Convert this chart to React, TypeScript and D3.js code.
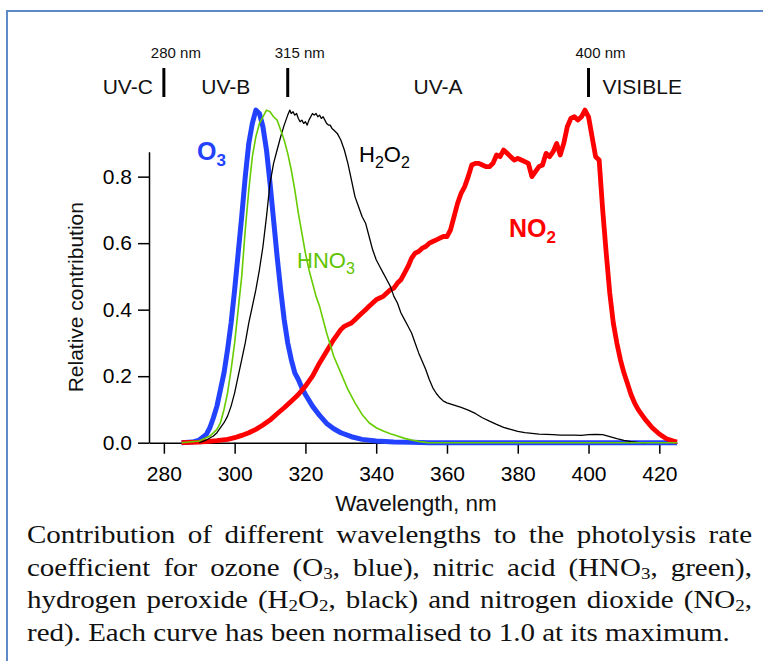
import React, { useEffect, useRef } from "react";
import * as d3 from "d3";

// wavelength (nm), relative contribution
const o3Curve = [
  [285, 0], [288, 0.002], [290, 0.008], [292, 0.025], [293, 0.045], [294, 0.075], [295, 0.11],
  [296, 0.16], [297, 0.21], [298, 0.28], [299, 0.36], [300, 0.46], [301, 0.57], [302, 0.68],
  [303, 0.8], [304, 0.9], [305, 0.96], [306, 1.0], [307, 0.99], [308, 0.95], [309, 0.88],
  [310, 0.78], [311, 0.67], [312, 0.56], [313, 0.46], [314, 0.37], [315, 0.3], [316, 0.25],
  [317, 0.21], [318, 0.19], [319, 0.165], [320, 0.145], [322, 0.11], [324, 0.082], [326, 0.058],
  [328, 0.042], [330, 0.03], [333, 0.018], [336, 0.01], [340, 0.005], [345, 0.002], [350, 0.001],
  [355, 0], [425, 0]
];

const hno3Curve = [
  [285, 0], [290, 0.005], [293, 0.02], [295, 0.04], [296, 0.06], [297, 0.1], [298, 0.15],
  [299, 0.22], [300, 0.3], [301, 0.4], [302, 0.5], [303, 0.64], [304, 0.76], [305, 0.86],
  [306, 0.92], [307, 0.96], [308, 0.98], [309, 1.0], [310, 0.995], [311, 0.98], [312, 0.97],
  [313, 0.94], [314, 0.91], [315, 0.87], [316, 0.82], [317, 0.76], [318, 0.69], [319, 0.63],
  [320, 0.57], [321, 0.52], [322, 0.48], [323, 0.44], [324, 0.41], [326, 0.33], [328, 0.26],
  [330, 0.21], [332, 0.16], [334, 0.12], [336, 0.085], [338, 0.06], [340, 0.045], [342, 0.035],
  [344, 0.027], [346, 0.02], [348, 0.013], [350, 0.008], [352, 0.004], [354, 0.001], [355, 0], [425, 0]
];

const h2o2Curve = [
  [290, 0], [292, 0.008], [294, 0.02], [295, 0.03], [296, 0.045], [297, 0.06], [298, 0.08],
  [299, 0.11], [300, 0.15], [301, 0.2], [302, 0.25], [303, 0.3], [304, 0.36], [305, 0.41],
  [306, 0.46], [307, 0.52], [308, 0.59], [309, 0.68], [310, 0.78], [311, 0.84], [312, 0.88],
  [313, 0.92], [314, 0.955], [315, 0.985], [315.6, 1.0], [316, 0.99], [316.5, 0.995], [317, 0.985],
  [317.5, 0.99], [318, 0.975], [318.5, 0.965], [319, 0.97], [319.5, 0.96], [320, 0.965],
  [320.5, 0.955], [321, 0.97], [321.5, 0.98], [322, 0.99], [322.5, 0.985], [323, 0.99],
  [323.5, 0.98], [324, 0.985], [324.5, 0.975], [325, 0.98], [325.5, 0.97], [326, 0.96],
  [326.5, 0.955], [327, 0.955], [327.5, 0.945], [328, 0.94], [329, 0.93], [330, 0.91],
  [331, 0.88], [332, 0.84], [333, 0.79], [334, 0.74], [335, 0.71], [336, 0.68], [337, 0.66],
  [338, 0.62], [339, 0.58], [340, 0.55], [341, 0.53], [342, 0.51], [343, 0.49], [344, 0.47],
  [345, 0.44], [346, 0.42], [347, 0.39], [348, 0.37], [349, 0.35], [350, 0.33], [351, 0.3],
  [352, 0.27], [353, 0.245], [354, 0.22], [355, 0.19], [356, 0.165], [357, 0.148], [358, 0.135],
  [359, 0.125], [360, 0.12], [362, 0.113], [364, 0.106], [366, 0.098], [368, 0.088], [370, 0.075],
  [372, 0.065], [374, 0.055], [376, 0.046], [378, 0.04], [380, 0.034], [382, 0.03], [384, 0.028],
  [386, 0.026], [388, 0.025], [390, 0.024], [392, 0.023], [394, 0.023], [396, 0.023], [398, 0.022],
  [400, 0.024], [402, 0.025], [404, 0.024], [406, 0.018], [408, 0.012], [410, 0.007], [412, 0.003],
  [414, 0.001], [416, 0]
];

const no2Curve = [
  [285, 0], [290, 0.002], [295, 0.006], [298, 0.01], [300, 0.015], [302, 0.022], [304, 0.03],
  [306, 0.04], [308, 0.053], [310, 0.068], [312, 0.087], [314, 0.105], [316, 0.125], [318, 0.145],
  [320, 0.17], [322, 0.2], [324, 0.24], [326, 0.275], [328, 0.31], [330, 0.34], [331, 0.35],
  [332, 0.355], [333, 0.36], [334, 0.37], [335, 0.38], [336, 0.39], [337, 0.4], [338, 0.41],
  [339, 0.42], [340, 0.43], [341, 0.435], [342, 0.44], [343, 0.45], [344, 0.46], [345, 0.465],
  [346, 0.48], [347, 0.49], [348, 0.51], [349, 0.53], [350, 0.555], [351, 0.57], [352, 0.575],
  [353, 0.585], [354, 0.59], [355, 0.6], [356, 0.605], [357, 0.61], [358, 0.615], [359, 0.62],
  [360, 0.62], [361, 0.64], [362, 0.68], [363, 0.72], [364, 0.75], [365, 0.77], [366, 0.8],
  [367, 0.835], [368, 0.84], [369, 0.84], [370, 0.835], [371, 0.83], [372, 0.83], [373, 0.84],
  [374, 0.865], [375, 0.86], [376, 0.88], [377, 0.87], [378, 0.86], [379, 0.85], [380, 0.855],
  [381, 0.85], [382, 0.845], [383, 0.84], [384, 0.8], [385, 0.815], [386, 0.83], [387, 0.835],
  [388, 0.87], [389, 0.86], [390, 0.875], [391, 0.9], [392, 0.865], [393, 0.9], [394, 0.95],
  [395, 0.975], [396, 0.98], [397, 0.97], [398, 0.98], [399, 1.0], [400, 0.98], [401, 0.92],
  [402, 0.86], [403, 0.85], [404, 0.7], [405, 0.57], [406, 0.45], [407, 0.36], [408, 0.3],
  [409, 0.25], [410, 0.21], [411, 0.178], [412, 0.145], [413, 0.12], [414, 0.1], [416, 0.07],
  [418, 0.045], [420, 0.026], [422, 0.012], [424, 0.005], [425, 0.002]
];

const xTicks = [280, 300, 320, 340, 360, 380, 400, 420];
const yTicks = [0, 0.2, 0.4, 0.6, 0.8];

// band boundaries and names along the top
const boundaries = [280, 315, 400];
const boundaryLabels = ["280 nm", "315 nm", "400 nm"];
const bandNames = ["UV-C", "UV-B", "UV-A", "VISIBLE"];

// "_3" marks a subscript digit
const captionLines = [
  "Contribution of different wavelengths to the photolysis rate",
  "coefficient for ozone (O_3, blue), nitric acid (HNO_3, green),",
  "hydrogen peroxide (H_2O_2, black) and nitrogen dioxide (NO_2,",
  "red). Each curve has been normalised to 1.0 at its maximum."
];

const SANS = "'Liberation Sans', Arial, Helvetica, sans-serif";
const SERIF = "'Liberation Serif', 'Times New Roman', serif";

// write text with subscripts as tspans
const addRich = (text, str, size, subSize, shift) => {
  const parts = str.split(/_(\d)/);
  let down = 0;
  parts.forEach((p, i) => {
    if (p === "") return;
    if (i % 2 === 1) {
      text.append("tspan").attr("font-size", subSize).attr("dy", shift - down).text(p);
      down = shift;
    } else {
      text.append("tspan").attr("font-size", size).attr("dy", -down).text(p);
      down = 0;
    }
  });
};

const App = () => {
  const ref = useRef(null);

  useEffect(() => {
    document.body.style.margin = "0";
    const svg = d3.select(ref.current);
    svg.selectAll("*").remove();

    // frame
    svg.append("line").attr("x1", 7).attr("y1", 11).attr("x2", 7).attr("y2", 661)
      .attr("stroke", "#5f8ac8").attr("stroke-width", 2);
    svg.append("line").attr("x1", 6).attr("y1", 11).attr("x2", 763).attr("y2", 11)
      .attr("stroke", "#5f8ac8").attr("stroke-width", 2);

    var x = d3.scaleLinear().domain([275.8, 425]).range([149, 677]);
    var y = d3.scaleLinear().domain([0, 0.875]).range([442.7, 151.7]);

    const gx = svg.append("g").attr("transform", `translate(0, ${y(0)})`)
      .call(d3.axisBottom(x).tickValues(xTicks).tickSize(11).tickPadding(12).tickSizeOuter(0).tickFormat(d3.format("d")));
    const gy = svg.append("g").attr("transform", `translate(${x(275.8)}, 0)`)
      .call(d3.axisLeft(y).tickValues(yTicks).tickSize(11).tickPadding(6).tickSizeOuter(0).tickFormat(d3.format(".1f")));
    [gx, gy].forEach((g) => {
      g.attr("font-family", SANS).attr("font-size", 21);
      g.select(".domain").attr("stroke-width", 1.5);
      g.selectAll(".tick line").attr("stroke-width", 1.5);
      g.selectAll(".tick text").attr("fill", "#000");
    });

    svg.append("text").attr("x", (x(275.8) + x(425)) / 2 + 3).attr("y", 511)
      .attr("text-anchor", "middle").attr("font-family", SANS).attr("font-size", 22.5)
      .attr("fill", "#111").text("Wavelength, nm");
    svg.append("text").attr("transform", `translate(83, ${(y(0) + y(0.875)) / 2}) rotate(-90)`)
      .attr("text-anchor", "middle").attr("font-family", SANS).attr("font-size", 21)
      .attr("fill", "#111").text("Relative contribution");

    // spectral bands on top
    boundaries.forEach((b, i) => {
      svg.append("line").attr("x1", x(b)).attr("x2", x(b)).attr("y1", 68).attr("y2", 97)
        .attr("stroke", "#000").attr("stroke-width", 3);
      svg.append("text").attr("x", x(b) - 13).attr("y", 58).attr("font-family", SANS)
        .attr("font-size", 15).attr("fill", "#111").text(boundaryLabels[i]);
    });
    const bandX = [x(280) - 11, x((280 + 315) / 2), x((315 + 400) / 2), x(400) + 14];
    const bandAnchor = ["end", "middle", "middle", "start"];
    bandNames.forEach((n, i) => {
      svg.append("text").attr("x", bandX[i]).attr("y", 94).attr("text-anchor", bandAnchor[i])
        .attr("font-family", SANS).attr("font-size", 21).attr("fill", "#111").text(n);
    });

    var valueLine = d3.line().x((d) => x(d[0])).y((d) => y(d[1]));
    const series = [
      { data: o3Curve, color: "#2342ff", width: 5 },
      { data: no2Curve, color: "#ff0000", width: 4.8 },
      { data: h2o2Curve, color: "#000000", width: 1.3 },
      { data: hno3Curve, color: "#66cc00", width: 1.6 }
    ];
    series.forEach((s) => {
      svg.append("path").datum(s.data).attr("fill", "none").attr("stroke", s.color)
        .attr("stroke-width", s.width).attr("stroke-linejoin", "round").attr("d", valueLine);
    });

    // curve labels
    const labels = [
      { t: "O_3", x: 197, y: 160, size: 25, sub: 17, weight: "bold", color: "#2342ff" },
      { t: "H_2O_2", x: 359, y: 162, size: 22, sub: 16, weight: "normal", color: "#000" },
      { t: "HNO_3", x: 297, y: 268, size: 22, sub: 16, weight: "normal", color: "#5fc400" },
      { t: "NO_2", x: 509, y: 237, size: 25, sub: 17, weight: "bold", color: "#ff0000" }
    ];
    labels.forEach((l) => {
      const t = svg.append("text").attr("x", l.x).attr("y", l.y).attr("font-family", SANS)
        .attr("font-weight", l.weight).attr("fill", l.color);
      addRich(t, l.t, l.size, l.sub, 6);
    });

    // justified caption
    const left = 27, right = 752, fs = 29;
    captionLines.forEach((line, i) => {
      const g = svg.append("g")
        .attr("transform", `translate(${left}, ${543 + i * 32.5}) scale(1, 0.86)`);
      const words = line.split(" ");
      const nodes = words.map((w) => {
        const t = g.append("text").attr("font-family", SERIF).attr("font-size", fs).attr("fill", "#111");
        addRich(t, w, fs, 19, 4);
        return t;
      });
      const widths = nodes.map((t) => t.node().getComputedTextLength());
      const total = d3.sum(widths);
      const last = i === captionLines.length - 1;
      const gap = last ? fs * 0.25 : (right - left - total) / (words.length - 1);
      let pos = 0;
      nodes.forEach((t, k) => {
        t.attr("x", pos);
        pos += widths[k] + gap;
      });
    });
  }, []);

  return (
    <svg ref={ref} width={763} height={661} style={{ display: "block", background: "#fff" }} />
  );
};

export default App;
